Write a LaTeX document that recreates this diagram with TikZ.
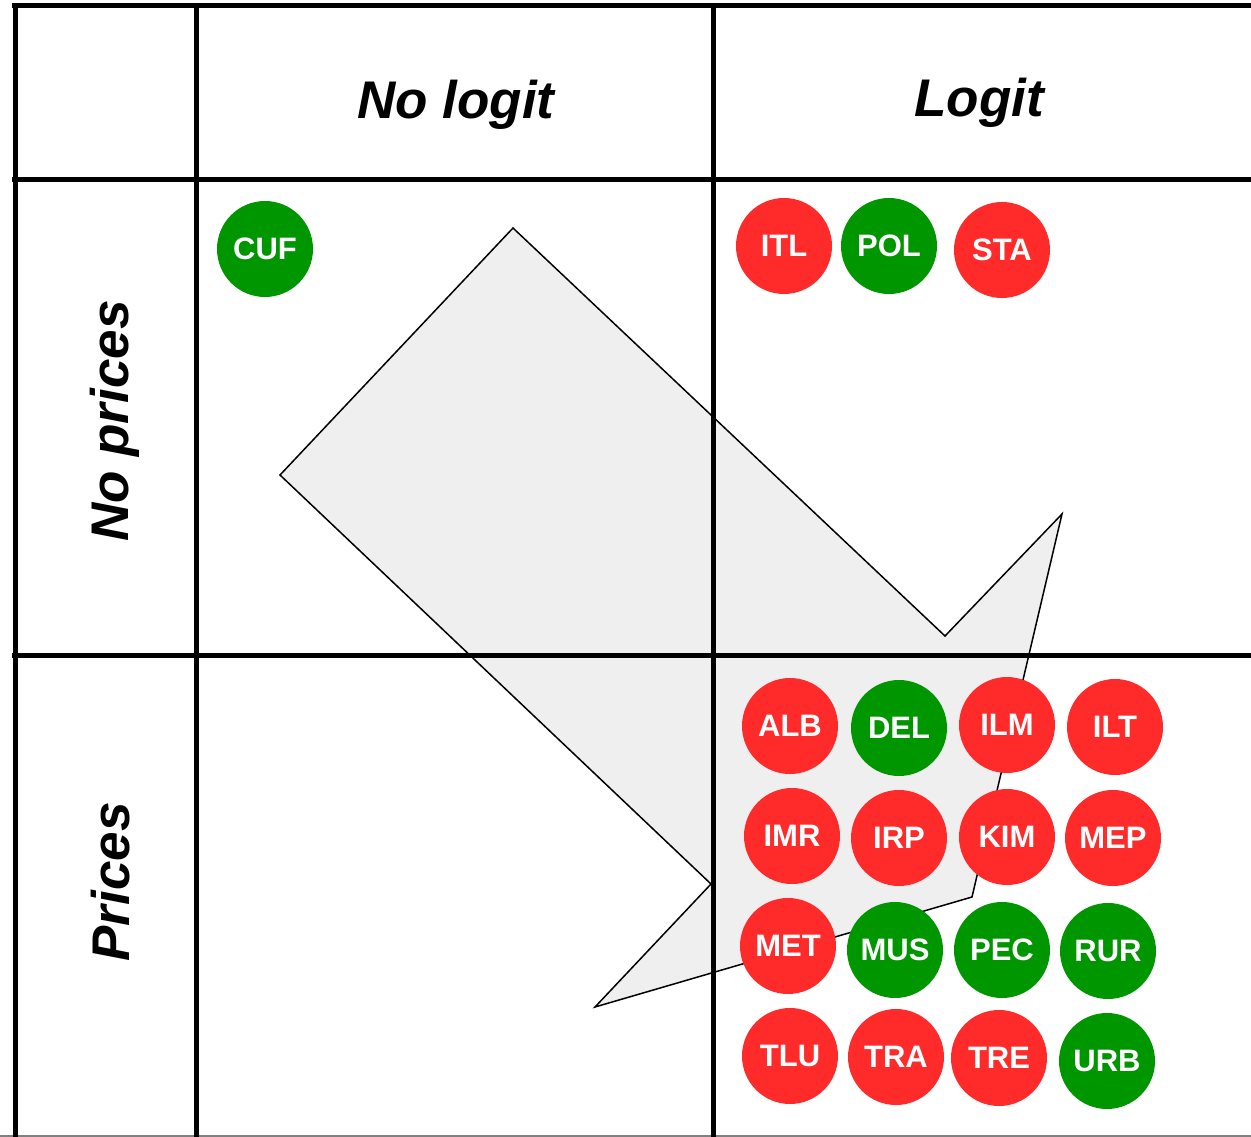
\documentclass[tikz,border=0pt]{standalone}
\usepackage{fontspec}
\setmainfont{Liberation Sans}
\definecolor{cred}{RGB}{255,42,42}
\definecolor{cgreen}{RGB}{0,150,0}
\definecolor{arrowfill}{RGB}{239,239,239}
\begin{document}
\begin{tikzpicture}[x=1pt,y=-1pt,
  grid/.style={line width=5pt,black},
  ball/.style={circle,minimum size=96pt,inner sep=0pt,text=white,font=\bfseries\fontsize{31}{31}\selectfont},
  rb/.style={ball,fill=cred},
  gb/.style={ball,fill=cgreen},
  head/.style={font=\bfseries\itshape\fontsize{53}{53}\selectfont}]
\useasboundingbox (0,0) rectangle (1251,1137);
\fill[white] (0,0) rectangle (1251,1137);
% big arrow
\draw[fill=arrowfill,line width=1.5pt,line join=miter]
  (513,228) -- (945,636) -- (1062,514) -- (972,897) -- (595,1007) -- (711,884) -- (280,475) -- cycle;
% grid
\draw[gray,line width=2pt] (0,1136) -- (1251,1136);
\draw[grid] (12,6) -- (1251,6);
\draw[grid] (12,180) -- (1251,180);
\draw[grid] (12,655) -- (1251,655);
\draw[grid] (15,4) -- (15,1137);
\draw[grid] (196,4) -- (196,1137);
\draw[grid] (713,4) -- (713,1137);
% headers
\node[head] (hnl) at (456,105) {No logit};
\node[head] (hl) at (979,103) {Logit};
\node[head,rotate=90] (hnp) at (115,421) {No prices};
\node[head,rotate=90] (hp) at (111,882) {Prices};
% balls
\node[gb] (CUF) at (265,249) {CUF};
\node[rb] (ITL) at (784,246) {ITL};
\node[gb] (POL) at (889,246) {POL};
\node[rb] (STA) at (1002,250) {STA};
\node[rb] (ALB) at (790,726) {ALB};
\node[gb] (DEL) at (899,728) {DEL};
\node[rb] (ILM) at (1007,725) {ILM};
\node[rb] (ILT) at (1115,727) {ILT};
\node[rb] (IMR) at (792,836) {IMR};
\node[rb] (IRP) at (899,838) {IRP};
\node[rb] (KIM) at (1007,837) {KIM};
\node[rb] (MEP) at (1113,838) {MEP};
\node[rb] (MET) at (788,946) {MET};
\node[gb] (MUS) at (895,950) {MUS};
\node[gb] (PEC) at (1002,950) {PEC};
\node[gb] (RUR) at (1108,951) {RUR};
\node[rb] (TLU) at (790,1056) {TLU};
\node[rb] (TRA) at (896,1057) {TRA};
\node[rb] (TRE) at (999,1058) {TRE};
\node[gb] (URB) at (1107,1061) {URB};
\end{tikzpicture}
\end{document}
